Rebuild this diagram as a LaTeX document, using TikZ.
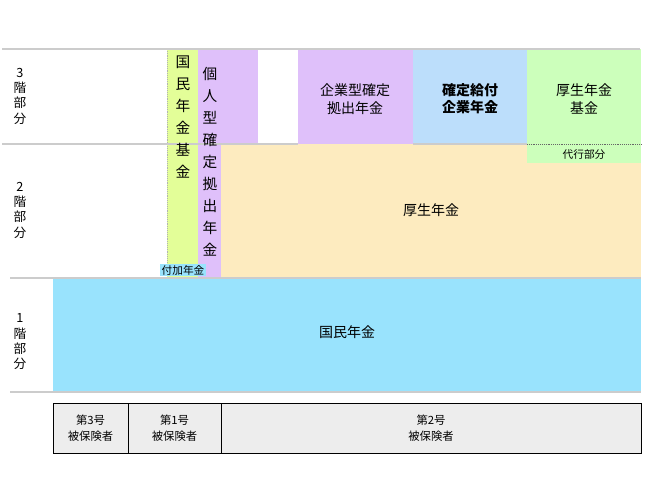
\documentclass[tikz,border=0pt]{standalone}
\usepackage{fontspec}
\setmainfont{Noto Sans CJK JP}
\begin{document}
\begin{tikzpicture}[x=0.75pt,y=-0.75pt,
  lbl/.style={font=\fontsize{10.5}{13}\selectfont,align=center,inner sep=0pt},
  sml/.style={font=\fontsize{8}{10}\selectfont,align=center,inner sep=1pt},
  vt/.style={font=\fontsize{11}{16.5}\selectfont,align=center,inner sep=0pt},
  grid/.style={draw=black!20,line width=0.8pt},
  cell/.style={draw=black,fill=black!7,line width=0.6pt}]
\useasboundingbox (0,0) rectangle (650,485);
\definecolor{cgreen}{HTML}{E3FE98}
\definecolor{cpurple}{HTML}{DFC0FA}
\definecolor{cblue}{HTML}{BCDEFB}
\definecolor{clgreen}{HTML}{CCFFBB}
\definecolor{corange}{HTML}{FDEBBF}
\definecolor{ccyan}{HTML}{99E3FD}
% fills
\fill[cgreen] (167,49) rectangle (198,278);
\fill[cpurple] (198,49) rectangle (258,144);
\fill[cpurple] (198,144) rectangle (221,278);
\fill[cpurple] (298,49) rectangle (413,144);
\fill[cblue] (413,49) rectangle (527,144);
\fill[clgreen] (527,49) rectangle (641,163);
\fill[corange] (221,163) rectangle (641,278);
\fill[corange] (221,144) rectangle (527,163);
\fill[ccyan] (53,278) rectangle (641,392);
\draw[black!30,densely dotted] (167,49) -- (167,278);
\draw[black!60,densely dotted] (527,144) -- (641,144);
% grid lines
\draw[grid] (2,49) -- (640,49);
\draw[grid] (2,144) -- (298,144) (413,144) -- (527,144);
\draw[grid] (10,278) -- (641,278);
\draw[grid] (10,392) -- (641,392);
% texts
\node[vt] (vk) at (183,117) {国\\民\\年\\金\\基\\金};
\node[vt] (vi) at (210,162) {個\\人\\型\\確\\定\\拠\\出\\年\\金};
\node[lbl] (kig) at (355,99) {企業型確定\\拠出年金};
\node[lbl,font=\bfseries\fontsize{10.5}{13}\selectfont] (db) at (470,99) {確定給付\\企業年金};
\node[lbl] (kk) at (584,99) {厚生年金\\基金};
\node[sml] (dai) at (584,154) {代行部分};
\node[lbl] (kn) at (431,210) {厚生年金};
\node[lbl] (kmn) at (347,332) {国民年金};
\node[sml,fill=ccyan] (fuka) at (183,270) {付加年金};
\node[lbl,font=\fontsize{9.5}{11.5}\selectfont] (t3) at (20,96) {3\\階\\部\\分};
\node[lbl,font=\fontsize{9.5}{11.5}\selectfont] (t2) at (20,210) {2\\階\\部\\分};
\node[lbl,font=\fontsize{9.5}{11.5}\selectfont] (t1) at (20,342) {1\\階\\部\\分};
% bottom cells
\draw[cell] (53,403) rectangle (128,453);
\draw[cell] (128,403) rectangle (221,453);
\draw[cell] (221,403) rectangle (641,453);
\node[sml,font=\fontsize{8.5}{12}\selectfont] (b3) at (90.5,428) {第3号\\被保険者};
\node[sml,font=\fontsize{8.5}{12}\selectfont] (b1) at (174.5,428) {第1号\\被保険者};
\node[sml,font=\fontsize{8.5}{12}\selectfont] (b2) at (431,428) {第2号\\被保険者};
\end{tikzpicture}
\end{document}
